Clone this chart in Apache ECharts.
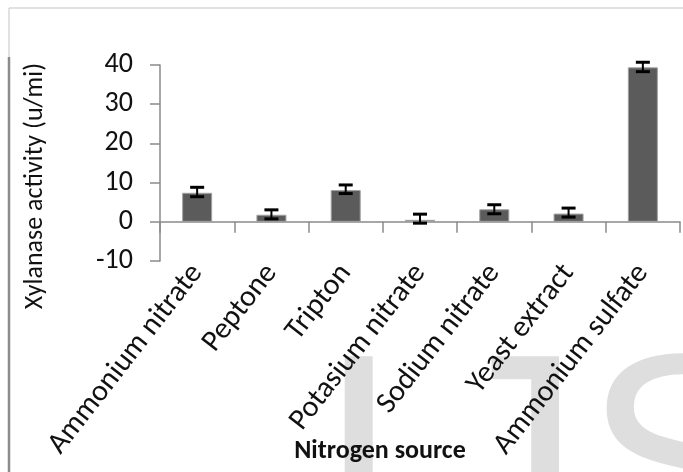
<!DOCTYPE html>
<html>
<head>
<meta charset="utf-8">
<script src="https://cdn.jsdelivr.net/npm/echarts@6/dist/echarts.min.js"></script>
<style>html,body{margin:0;padding:0;background:#fff;}#c{width:683px;height:472px;}</style>
</head>
<body>
<div id="c"></div>
<script>
const categories = ['Ammonium nitrate', 'Peptone', 'Tripton', 'Potasium nitrate', 'Sodium nitrate', 'Yeast extract', 'Ammonium sulfate'];
const activity = [7.4, 1.8, 8.1, 0.5, 3.2, 2.1, 39.4];
const errorCenter = [7.6, 1.9, 8.3, 0.8, 3.2, 2.35, 39.5];
const errorHalf = [1.2, 1.15, 1.1, 1.15, 1.15, 1.15, 1.2];
const yTicks = { min: -10, max: 40, interval: 10 };
const yAxisTitle = 'Xylanase activity (u/mi)';
const xAxisTitle = 'Nitrogen source';
const watermarkLetters = ['I', 'J', 'S'];

const FONT = 'Carlito, Lato, sans-serif';
const WM_FONT = '300px "Liberation Sans", Arial, sans-serif';
const chart = echarts.init(document.getElementById('c'), null, { renderer: 'canvas' });

// watermark letter placement (decoration only)
const mctx = document.createElement('canvas').getContext('2d');
mctx.font = WM_FONT;
const wmX = [317, 317 + mctx.measureText('I').width + 31, 317 + mctx.measureText('IJ').width + 33];
const wmGraphics = watermarkLetters.map((t, i) => ({
  type: 'text', z: -10, silent: true, x: wmX[i], y: 330,
  style: { text: t, font: WM_FONT, fill: '#dedede', textVerticalAlign: 'top' }
}));

const errData = categories.map((c, i) => [i, errorCenter[i] - errorHalf[i], errorCenter[i] + errorHalf[i]]);

chart.setOption({
  animation: false,
  backgroundColor: '#ffffff',
  grid: { left: 160, right: 3, top: 65, bottom: 211, containLabel: false },
  graphic: wmGraphics.concat([
    { type: 'line', shape: { x1: 9, y1: 8, x2: 683, y2: 8 }, style: { stroke: '#c4c4c4', lineWidth: 1 } },
    { type: 'line', shape: { x1: 9, y1: 8, x2: 9, y2: 57 }, style: { stroke: '#c4c4c4', lineWidth: 1 } },
    { type: 'line', shape: { x1: 9, y1: 57, x2: 9, y2: 472 }, style: { stroke: '#8c8c8c', lineWidth: 2.5 } },
    { type: 'text', x: 380, y: 451, z: 10,
      style: { text: xAxisTitle, font: '600 26px ' + FONT, fill: '#111', textAlign: 'center', textVerticalAlign: 'middle' } },
    { type: 'text', x: 35, y: 186, rotation: Math.PI / 2, z: 10,
      style: { text: yAxisTitle, font: '26px ' + FONT, fill: '#111', textAlign: 'center', textVerticalAlign: 'middle' } }
  ]),
  xAxis: {
    type: 'category',
    data: categories,
    axisLine: { onZero: true, lineStyle: { color: '#8a8a8a', width: 1.5 } },
    axisTick: { show: true, length: 11, inside: false, alignWithLabel: false, lineStyle: { color: '#8a8a8a', width: 1.5 } },
    axisLabel: { interval: 0, rotate: 52, margin: 7, fontSize: 30, fontFamily: FONT, color: '#111' },
    splitLine: { show: false }
  },
  yAxis: {
    type: 'value',
    min: yTicks.min, max: yTicks.max, interval: yTicks.interval,
    axisLine: { show: true, lineStyle: { color: '#8a8a8a', width: 1.5 } },
    axisTick: { show: true, length: 10, lineStyle: { color: '#8a8a8a', width: 1.5 } },
    axisLabel: { margin: 27, fontSize: 28, fontFamily: FONT, color: '#111' },
    splitLine: { show: false }
  },
  series: [
    {
      type: 'bar', data: activity, barWidth: 30,
      itemStyle: { color: '#5b5b5b', borderColor: '#a0a0a0', borderWidth: 1 }
    },
    {
      type: 'custom', data: errData, z: 5,
      renderItem: function (params, api) {
        const x = api.value(0);
        const lo = api.coord([x, api.value(1)]);
        const hi = api.coord([x, api.value(2)]);
        const hw = 7;
        return {
          type: 'group',
          children: [
            { type: 'line', shape: { x1: lo[0], y1: lo[1], x2: hi[0], y2: hi[1] }, style: { stroke: '#000', lineWidth: 2 } },
            { type: 'line', shape: { x1: lo[0] - hw, y1: lo[1], x2: lo[0] + hw, y2: lo[1] }, style: { stroke: '#000', lineWidth: 3 } },
            { type: 'line', shape: { x1: hi[0] - hw, y1: hi[1], x2: hi[0] + hw, y2: hi[1] }, style: { stroke: '#000', lineWidth: 3 } }
          ]
        };
      }
    }
  ]
});
</script>
</body>
</html>
